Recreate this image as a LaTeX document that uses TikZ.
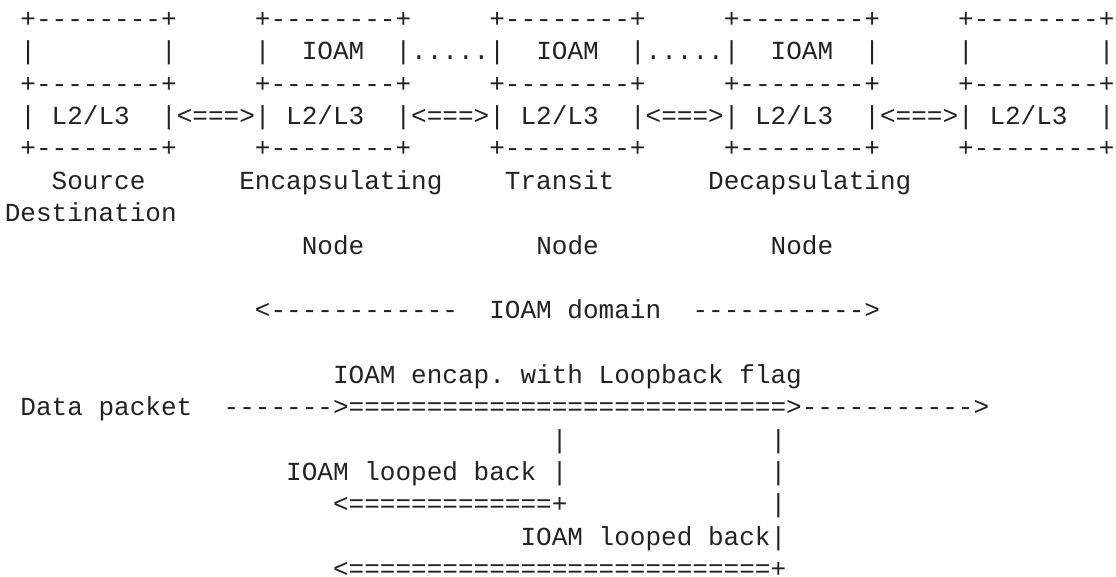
\documentclass[tikz,border=0pt]{standalone}
\usepackage{fontspec}
\setmonofont{Liberation Mono}
\definecolor{ink}{HTML}{222222}
\tikzset{
	asc/.style={anchor=base west, inner sep=0pt, outer sep=0pt, text=ink,
		font=\ttfamily\fontsize{26.04}{32.35}\selectfont}
}
\begin{document}
\begin{tikzpicture}[x=15.629pt, y=-32.35pt]
		\useasboundingbox (-4.86pt,27.6pt) rectangle (1111.14pt,-549.4pt);

		\node[asc] (srctop) at (1,0) {+--------+};
		\node[asc] (enctop) at (16,0) {+--------+};
		\node[asc] (trntop) at (31,0) {+--------+};
		\node[asc] (dectop) at (46,0) {+--------+};
		\node[asc] (dsttop) at (61,0) {+--------+};

		\node[asc] (srcl) at (1,1) {|};
		\node[asc] (srcr) at (10,1) {|};
		\node[asc] (encl) at (16,1) {|};
		\node[asc] (encioam) at (19,1) {IOAM};
		\node[asc] (dotsa) at (25,1) {|.....|};
		\node[asc] (trnioam) at (34,1) {IOAM};
		\node[asc] (dotsb) at (40,1) {|.....|};
		\node[asc] (decioam) at (49,1) {IOAM};
		\node[asc] (decr) at (55,1) {|};
		\node[asc] (dstl) at (61,1) {|};
		\node[asc] (dstr) at (70,1) {|};

		\node[asc] (srcmid) at (1,2) {+--------+};
		\node[asc] (encmid) at (16,2) {+--------+};
		\node[asc] (trnmid) at (31,2) {+--------+};
		\node[asc] (decmid) at (46,2) {+--------+};
		\node[asc] (dstmid) at (61,2) {+--------+};

		\node[asc] (srcbar) at (1,3) {|};
		\node[asc] (srcnet) at (3,3) {L2/L3};
		\node[asc] (linka) at (10,3) {|<===>|};
		\node[asc] (encnet) at (18,3) {L2/L3};
		\node[asc] (linkb) at (25,3) {|<===>|};
		\node[asc] (trnnet) at (33,3) {L2/L3};
		\node[asc] (linkc) at (40,3) {|<===>|};
		\node[asc] (decnet) at (48,3) {L2/L3};
		\node[asc] (linkd) at (55,3) {|<===>|};
		\node[asc] (dstnet) at (63,3) {L2/L3};
		\node[asc] (dstbar) at (70,3) {|};

		\node[asc] (srcbot) at (1,4) {+--------+};
		\node[asc] (encbot) at (16,4) {+--------+};
		\node[asc] (trnbot) at (31,4) {+--------+};
		\node[asc] (decbot) at (46,4) {+--------+};
		\node[asc] (dstbot) at (61,4) {+--------+};

		\node[asc] (srcname) at (3,5) {Source};
		\node[asc] (encname) at (15,5) {Encapsulating};
		\node[asc] (trnname) at (32,5) {Transit};
		\node[asc] (decname) at (45,5) {Decapsulating};
		\node[asc] (dstname) at (0,6) {Destination};

		\node[asc] (encnode) at (19,7) {Node};
		\node[asc] (trnnode) at (34,7) {Node};
		\node[asc] (decnode) at (49,7) {Node};

		\node[asc] (domleft) at (16,9) {<------------};
		\node[asc] (domain) at (31,9) {IOAM domain};
		\node[asc] (domright) at (44,9) {----------->};

		\node[asc] (flag) at (21,11) {IOAM encap. with Loopback flag};
		\node[asc] (packet) at (1,12) {Data packet};
		\node[asc] (path) at (14,12) {------->============================>----------->};

		\node[asc] (trndown) at (35,13) {|};
		\node[asc] (decdown) at (49,13) {|};
		\node[asc] (loopa) at (18,14) {IOAM looped back};
		\node[asc] (trnbar) at (35,14) {|};
		\node[asc] (decbara) at (49,14) {|};
		\node[asc] (backa) at (21,15) {<=============+};
		\node[asc] (decbarb) at (49,15) {|};
		\node[asc] (loopb) at (33,16) {IOAM looped back|};
		\node[asc] (backb) at (21,17) {<===========================+};
\end{tikzpicture}
\end{document}
